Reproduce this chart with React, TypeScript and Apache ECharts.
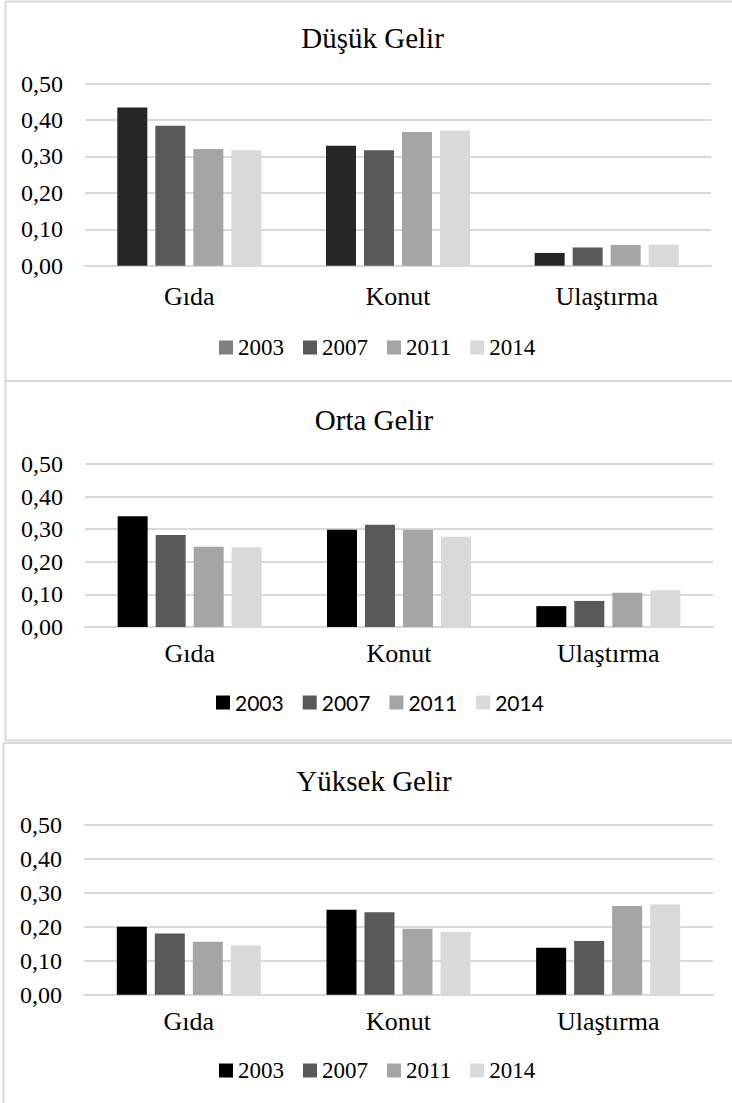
import React, { useEffect, useRef } from "react";
import * as echarts from "echarts";

const categories = ["Gıda", "Konut", "Ulaştırma"];
const years = ["2003", "2007", "2011", "2014"];
const panelTitles = ["Düşük Gelir", "Orta Gelir", "Yüksek Gelir"];
const yTicks = [0, 0.1, 0.2, 0.3, 0.4, 0.5];

// Düşük Gelir
const low2003 = [0.434, 0.329, 0.035];
const low2007 = [0.384, 0.317, 0.05];
const low2011 = [0.32, 0.367, 0.057];
const low2014 = [0.317, 0.371, 0.058];
// Orta Gelir
const mid2003 = [0.34, 0.298, 0.064];
const mid2007 = [0.282, 0.314, 0.08];
const mid2011 = [0.246, 0.298, 0.105];
const mid2014 = [0.245, 0.277, 0.113];
// Yüksek Gelir
const high2003 = [0.2, 0.25, 0.138];
const high2007 = [0.18, 0.243, 0.158];
const high2011 = [0.156, 0.194, 0.261];
const high2014 = [0.146, 0.185, 0.266];

const panelData = [
  [low2003, low2007, low2011, low2014],
  [mid2003, mid2007, mid2011, mid2014],
  [high2003, high2007, high2011, high2014],
];

const barColors = [
  ["#262626", "#595959", "#a5a5a5", "#d9d9d9"],
  ["#000000", "#595959", "#a5a5a5", "#d9d9d9"],
  ["#000000", "#595959", "#a5a5a5", "#d9d9d9"],
];
const legendColors = [
  ["#7f7f7f", "#595959", "#a5a5a5", "#d9d9d9"],
  ["#000000", "#595959", "#a5a5a5", "#d9d9d9"],
  ["#000000", "#595959", "#a5a5a5", "#d9d9d9"],
];

const SERIF = "Liberation Serif";
const SANS = "Lato";

// layout per panel
const layout = [
  { box: [5.5, 1.5, 760, 379.5], titleX: 372.5, titleY: 23, gridL: 85, gridR: 21, gridT: 83.5, gridH: 182.2, xMargin: 18, legL: 219, legT: 336, legFont: SERIF, legSize: 23, legGap: 19 },
  { box: [5.5, 381, 760, 359.5], titleX: 374, titleY: 405, gridL: 85, gridR: 19, gridT: 464, gridH: 163, xMargin: 13, legL: 216, legT: 692, legFont: SANS, legSize: 21, legGap: 19 },
  { box: [3.5, 743, 760, 400], titleX: 374, titleY: 766, gridL: 84, gridR: 19, gridT: 825, gridH: 169.7, xMargin: 14, legL: 219, legT: 1059, legFont: SERIF, legSize: 23, legGap: 19 },
];

export default function App() {
  const ref = useRef<HTMLDivElement>(null);
  useEffect(() => {
    if (!ref.current) return;
    document.body.style.margin = "0";
    const chart = echarts.init(ref.current, undefined, { renderer: "svg" });

    const title: any[] = [];
    const grid: any[] = [];
    const xAxis: any[] = [];
    const yAxis: any[] = [];
    const legend: any[] = [];
    const series: any[] = [];
    const graphic: any[] = [];

    layout.forEach((L, p) => {
      graphic.push({
        type: "rect",
        z: -10,
        silent: true,
        shape: { x: L.box[0], y: L.box[1], width: L.box[2], height: L.box[3] },
        style: { fill: "none", stroke: "#d9d9d9", lineWidth: 2 },
      });
      title.push({
        text: panelTitles[p],
        left: L.titleX,
        top: L.titleY,
        textAlign: "center",
        padding: 0,
        textStyle: { fontFamily: SERIF, fontSize: 29, fontWeight: "normal", color: "#000" },
      });
      grid.push({ left: L.gridL, right: L.gridR, top: L.gridT, height: L.gridH, containLabel: false });
      xAxis.push({
        type: "category",
        gridIndex: p,
        data: categories,
        axisTick: { show: false },
        axisLine: { show: true, lineStyle: { color: "#d9d9d9", width: 2 } },
        axisLabel: { fontFamily: SERIF, fontSize: 26, color: "#000", margin: L.xMargin },
      });
      yAxis.push({
        type: "value",
        gridIndex: p,
        min: yTicks[0],
        max: yTicks[yTicks.length - 1],
        interval: 0.1,
        axisLine: { show: false },
        axisTick: { show: false },
        splitLine: { show: true, lineStyle: { color: "#d9d9d9", width: 2 } },
        axisLabel: {
          fontFamily: SERIF,
          fontSize: 24,
          color: "#000",
          margin: 22,
          formatter: (v: number) => v.toFixed(2).replace(".", ","),
        },
      });
      legend.push({
        left: L.legL,
        top: L.legT,
        padding: 0,
        itemWidth: 14,
        itemHeight: 14,
        itemGap: L.legGap,
        icon: "rect",
        selectedMode: false,
        textStyle: { fontFamily: L.legFont, fontSize: L.legSize, color: "#000" },
        data: years.map((y, i) => ({ name: y, itemStyle: { color: legendColors[p][i] } })),
      });
      years.forEach((y, i) => {
        series.push({
          type: "bar",
          name: y,
          xAxisIndex: p,
          yAxisIndex: p,
          data: panelData[p][i],
          barWidth: 30,
          barGap: "26.7%",
          itemStyle: { color: barColors[p][i] },
        });
      });
    });

    chart.setOption({
      animation: false,
      backgroundColor: "#ffffff",
      title,
      grid,
      xAxis,
      yAxis,
      legend,
      series,
      graphic,
    });
    return () => chart.dispose();
  }, []);
  return <div ref={ref} style={{ position: "absolute", left: 0, top: 0, width: 732, height: 1103 }} />;
}
